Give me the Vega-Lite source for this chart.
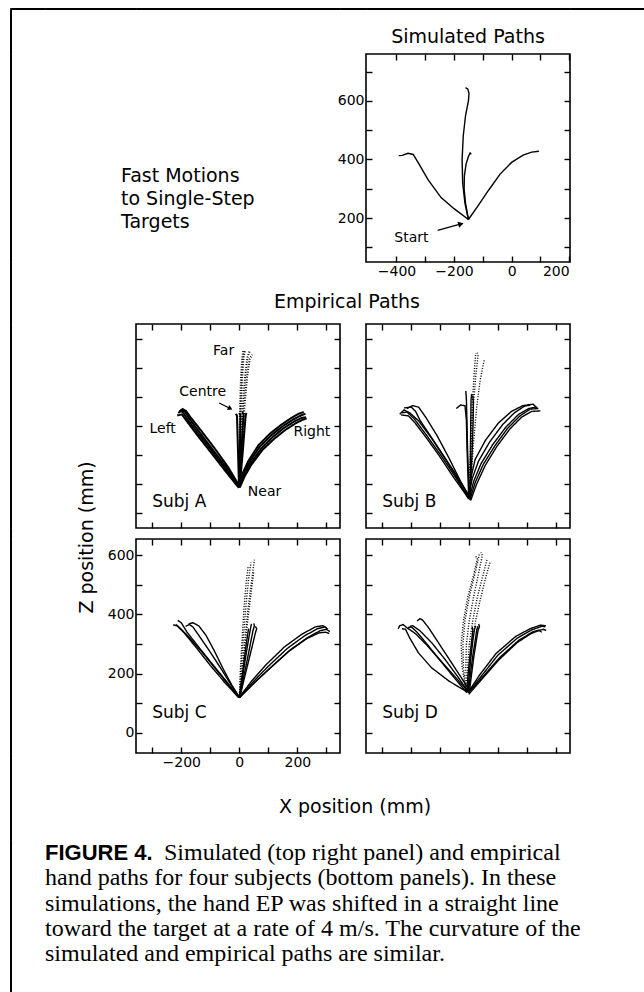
{
"$schema": "https://vega.github.io/schema/vega-lite/v6.json",
"padding": {"left": 9, "top": 7, "right": 0, "bottom": 0},
"background": "white",
"config": {
 "view": {"stroke": "#000", "strokeWidth": 1.6},
 "axis": {"domain": false, "grid": false, "tickColor": "#000", "tickSize": -6, "tickWidth": 1.4, "labelFont": "DejaVu Sans", "labelFontSize": 14, "labelColor": "#000", "labelPadding": 8},
 "title": {"font": "DejaVu Sans", "fontSize": 19, "fontWeight": "normal", "color": "#000"},
 "text": {"font": "DejaVu Sans", "color": "#000"},
 "line": {"color": "#000"}
},
"datasets": {
 "none": [],
 "txt": [{"ln":1,"text":"Fast Motions"},{"ln":2,"text":"to Single-Step"},{"ln":3,"text":"Targets"}],
 "ttl": [{"k":"e","text":"Empirical Paths"},{"k":"x","text":"X position (mm)"},{"k":"z","text":"Z position (mm)"}],
 "cap": [
  {"ln":1,"part":"h","text":"FIGURE 4."},
  {"ln":1,"part":"b1","text":"Simulated (top right panel) and empirical"},
  {"ln":2,"part":"b","text":"hand paths for four subjects (bottom panels). In these"},
  {"ln":3,"part":"b","text":"simulations, the hand EP was shifted in a straight line"},
  {"ln":4,"part":"b","text":"toward the target at a rate of 4 m/s. The curvature of the"},
  {"ln":5,"part":"b","text":"simulated and empirical paths are similar."}
 ],
 "lab": [
  {"p":"A","k":"s","x":-300,"z":40,"text":"Subj A"},
  {"p":"B","k":"s","x":-300,"z":40,"text":"Subj B"},
  {"p":"C","k":"s","x":-300,"z":67,"text":"Subj C"},
  {"p":"D","k":"s","x":-300,"z":67,"text":"Subj D"},
  {"p":"A","k":"t","x":-54,"z":557,"text":"Far"},
  {"p":"A","k":"t","x":-126,"z":417,"text":"Centre"},
  {"p":"A","k":"t","x":-264,"z":290,"text":"Left"},
  {"p":"A","k":"t","x":250,"z":280,"text":"Right"},
  {"p":"A","k":"t","x":87,"z":72,"text":"Near"},
  {"p":"S","k":"t","x":-348,"z":133,"text":"Start"}
 ],
 "arr": [
  {"p":"S","x":-257,"z":158,"x2":-176,"z2":180},
  {"p":"A","x":-69,"z":379,"x2":-31,"z2":360}
 ],
 "S": [
  {"t":"L","i":0,"x":-150,"z":195},{"t":"L","i":1,"x":-200,"z":232},{"t":"L","i":2,"x":-245,"z":270},{"t":"L","i":3,"x":-290,"z":330},{"t":"L","i":4,"x":-322,"z":385},{"t":"L","i":5,"x":-342,"z":417},{"t":"L","i":6,"x":-360,"z":421},{"t":"L","i":7,"x":-380,"z":414},{"t":"L","i":8,"x":-392,"z":413},
  {"t":"R","i":0,"x":-150,"z":195},{"t":"R","i":1,"x":-118,"z":240},{"t":"R","i":2,"x":-80,"z":295},{"t":"R","i":3,"x":-40,"z":350},{"t":"R","i":4,"x":0,"z":390},{"t":"R","i":5,"x":40,"z":415},{"t":"R","i":6,"x":70,"z":425},{"t":"R","i":7,"x":95,"z":428},
  {"t":"F","i":0,"x":-150,"z":195},{"t":"F","i":1,"x":-162,"z":250},{"t":"F","i":2,"x":-170,"z":320},{"t":"F","i":3,"x":-172,"z":400},{"t":"F","i":4,"x":-168,"z":480},{"t":"F","i":5,"x":-160,"z":550},{"t":"F","i":6,"x":-150,"z":600},{"t":"F","i":7,"x":-148,"z":625},{"t":"F","i":8,"x":-152,"z":640},{"t":"F","i":9,"x":-160,"z":645},
  {"t":"C","i":0,"x":-150,"z":195},{"t":"C","i":1,"x":-160,"z":250},{"t":"C","i":2,"x":-165,"z":300},{"t":"C","i":3,"x":-164,"z":345},{"t":"C","i":4,"x":-158,"z":385},{"t":"C","i":5,"x":-150,"z":410},{"t":"C","i":6,"x":-144,"z":422},{"t":"C","i":7,"x":-140,"z":418}
 ],
 "A": [
  {"t":"L1","g":"L","i":0,"x":0,"z":90},{"t":"L1","g":"L","i":1,"x":-45,"z":150},{"t":"L1","g":"L","i":2,"x":-95,"z":215},{"t":"L1","g":"L","i":3,"x":-140,"z":272},{"t":"L1","g":"L","i":4,"x":-178,"z":322},{"t":"L1","g":"L","i":5,"x":-195,"z":348},{"t":"L1","g":"L","i":6,"x":-203,"z":352},{"t":"L1","g":"L","i":7,"x":-210,"z":344},
  {"t":"L2","g":"L","i":0,"x":2,"z":92},{"t":"L2","g":"L","i":1,"x":-40,"z":152},{"t":"L2","g":"L","i":2,"x":-88,"z":214},{"t":"L2","g":"L","i":3,"x":-135,"z":276},{"t":"L2","g":"L","i":4,"x":-172,"z":325},{"t":"L2","g":"L","i":5,"x":-188,"z":350},{"t":"L2","g":"L","i":6,"x":-198,"z":356},{"t":"L2","g":"L","i":7,"x":-206,"z":350},
  {"t":"L3","g":"L","i":0,"x":-2,"z":88},{"t":"L3","g":"L","i":1,"x":-50,"z":148},{"t":"L3","g":"L","i":2,"x":-100,"z":212},{"t":"L3","g":"L","i":3,"x":-146,"z":270},{"t":"L3","g":"L","i":4,"x":-182,"z":318},{"t":"L3","g":"L","i":5,"x":-198,"z":340},{"t":"L3","g":"L","i":6,"x":-214,"z":336},
  {"t":"L4","g":"L","i":0,"x":0,"z":94},{"t":"L4","g":"L","i":1,"x":-38,"z":158},{"t":"L4","g":"L","i":2,"x":-84,"z":222},{"t":"L4","g":"L","i":3,"x":-130,"z":282},{"t":"L4","g":"L","i":4,"x":-168,"z":330},{"t":"L4","g":"L","i":5,"x":-184,"z":352},{"t":"L4","g":"L","i":6,"x":-195,"z":358},{"t":"L4","g":"L","i":7,"x":-204,"z":348},
  {"t":"C1","g":"C","i":0,"x":0,"z":90},{"t":"C1","g":"C","i":1,"x":1,"z":150},{"t":"C1","g":"C","i":2,"x":2,"z":220},{"t":"C1","g":"C","i":3,"x":3,"z":290},{"t":"C1","g":"C","i":4,"x":4,"z":335},{"t":"C1","g":"C","i":5,"x":0,"z":345},
  {"t":"C2","g":"C","i":0,"x":0,"z":92},{"t":"C2","g":"C","i":1,"x":4,"z":160},{"t":"C2","g":"C","i":2,"x":8,"z":230},{"t":"C2","g":"C","i":3,"x":12,"z":300},{"t":"C2","g":"C","i":4,"x":15,"z":340},{"t":"C2","g":"C","i":5,"x":10,"z":348},
  {"t":"C3","g":"C","i":0,"x":1,"z":90},{"t":"C3","g":"C","i":1,"x":7,"z":155},{"t":"C3","g":"C","i":2,"x":13,"z":225},{"t":"C3","g":"C","i":3,"x":18,"z":290},{"t":"C3","g":"C","i":4,"x":22,"z":335},{"t":"C3","g":"C","i":5,"x":24,"z":345},
  {"t":"C4","g":"C","i":0,"x":-1,"z":90},{"t":"C4","g":"C","i":1,"x":-3,"z":160},{"t":"C4","g":"C","i":2,"x":-5,"z":230},{"t":"C4","g":"C","i":3,"x":-7,"z":300},{"t":"C4","g":"C","i":4,"x":-8,"z":335},{"t":"C4","g":"C","i":5,"x":-12,"z":342},
  {"t":"F1","g":"F","i":0,"x":0,"z":90},{"t":"F1","g":"F","i":1,"x":1,"z":180},{"t":"F1","g":"F","i":2,"x":3,"z":280},{"t":"F1","g":"F","i":3,"x":6,"z":380},{"t":"F1","g":"F","i":4,"x":10,"z":470},{"t":"F1","g":"F","i":5,"x":15,"z":540},{"t":"F1","g":"F","i":6,"x":20,"z":560},
  {"t":"F2","g":"F","i":0,"x":1,"z":90},{"t":"F2","g":"F","i":1,"x":4,"z":180},{"t":"F2","g":"F","i":2,"x":8,"z":280},{"t":"F2","g":"F","i":3,"x":13,"z":380},{"t":"F2","g":"F","i":4,"x":20,"z":470},{"t":"F2","g":"F","i":5,"x":28,"z":535},{"t":"F2","g":"F","i":6,"x":35,"z":555},
  {"t":"F3","g":"F","i":0,"x":0,"z":92},{"t":"F3","g":"F","i":1,"x":6,"z":185},{"t":"F3","g":"F","i":2,"x":12,"z":285},{"t":"F3","g":"F","i":3,"x":19,"z":385},{"t":"F3","g":"F","i":4,"x":27,"z":470},{"t":"F3","g":"F","i":5,"x":36,"z":530},{"t":"F3","g":"F","i":6,"x":44,"z":545},
  {"t":"F4","g":"F","i":0,"x":-1,"z":90},{"t":"F4","g":"F","i":1,"x":0,"z":180},{"t":"F4","g":"F","i":2,"x":1,"z":280},{"t":"F4","g":"F","i":3,"x":3,"z":380},{"t":"F4","g":"F","i":4,"x":6,"z":470},{"t":"F4","g":"F","i":5,"x":10,"z":530},{"t":"F4","g":"F","i":6,"x":14,"z":560},
  {"t":"R1","g":"R","i":0,"x":0,"z":90},{"t":"R1","g":"R","i":1,"x":12,"z":130},{"t":"R1","g":"R","i":2,"x":32,"z":172},{"t":"R1","g":"R","i":3,"x":70,"z":228},{"t":"R1","g":"R","i":4,"x":110,"z":268},{"t":"R1","g":"R","i":5,"x":148,"z":298},{"t":"R1","g":"R","i":6,"x":185,"z":322},{"t":"R1","g":"R","i":7,"x":212,"z":336},{"t":"R1","g":"R","i":8,"x":228,"z":342},
  {"t":"R2","g":"R","i":0,"x":1,"z":90},{"t":"R2","g":"R","i":1,"x":15,"z":128},{"t":"R2","g":"R","i":2,"x":36,"z":168},{"t":"R2","g":"R","i":3,"x":75,"z":222},{"t":"R2","g":"R","i":4,"x":115,"z":262},{"t":"R2","g":"R","i":5,"x":152,"z":292},{"t":"R2","g":"R","i":6,"x":190,"z":316},{"t":"R2","g":"R","i":7,"x":216,"z":328},{"t":"R2","g":"R","i":8,"x":230,"z":330},
  {"t":"R3","g":"R","i":0,"x":0,"z":92},{"t":"R3","g":"R","i":1,"x":10,"z":134},{"t":"R3","g":"R","i":2,"x":30,"z":178},{"t":"R3","g":"R","i":3,"x":66,"z":234},{"t":"R3","g":"R","i":4,"x":106,"z":274},{"t":"R3","g":"R","i":5,"x":144,"z":304},{"t":"R3","g":"R","i":6,"x":180,"z":328},{"t":"R3","g":"R","i":7,"x":205,"z":342},{"t":"R3","g":"R","i":8,"x":222,"z":348},
  {"t":"R4","g":"R","i":0,"x":2,"z":90},{"t":"R4","g":"R","i":1,"x":18,"z":126},{"t":"R4","g":"R","i":2,"x":40,"z":165},{"t":"R4","g":"R","i":3,"x":80,"z":218},{"t":"R4","g":"R","i":4,"x":120,"z":256},{"t":"R4","g":"R","i":5,"x":158,"z":286},{"t":"R4","g":"R","i":6,"x":195,"z":310},{"t":"R4","g":"R","i":7,"x":220,"z":322},{"t":"R4","g":"R","i":8,"x":232,"z":326}
 ],
 "B": [
  {"t":"L1","g":"L","i":0,"x":0,"z":50},{"t":"L1","g":"L","i":1,"x":-45,"z":120},{"t":"L1","g":"L","i":2,"x":-95,"z":195},{"t":"L1","g":"L","i":3,"x":-145,"z":265},{"t":"L1","g":"L","i":4,"x":-190,"z":325},{"t":"L1","g":"L","i":5,"x":-215,"z":348},{"t":"L1","g":"L","i":6,"x":-232,"z":345},
  {"t":"L2","g":"L","i":0,"x":-5,"z":55},{"t":"L2","g":"L","i":1,"x":-55,"z":125},{"t":"L2","g":"L","i":2,"x":-105,"z":200},{"t":"L2","g":"L","i":3,"x":-150,"z":262},{"t":"L2","g":"L","i":4,"x":-188,"z":312},{"t":"L2","g":"L","i":5,"x":-210,"z":335},{"t":"L2","g":"L","i":6,"x":-235,"z":338},
  {"t":"L3","g":"L","i":0,"x":5,"z":45},{"t":"L3","g":"L","i":1,"x":-30,"z":110},{"t":"L3","g":"L","i":2,"x":-70,"z":190},{"t":"L3","g":"L","i":3,"x":-110,"z":265},{"t":"L3","g":"L","i":4,"x":-150,"z":330},{"t":"L3","g":"L","i":5,"x":-175,"z":365},{"t":"L3","g":"L","i":6,"x":-195,"z":370},{"t":"L3","g":"L","i":7,"x":-215,"z":360},
  {"t":"L4","g":"L","i":0,"x":0,"z":60},{"t":"L4","g":"L","i":1,"x":-50,"z":140},{"t":"L4","g":"L","i":2,"x":-100,"z":215},{"t":"L4","g":"L","i":3,"x":-140,"z":275},{"t":"L4","g":"L","i":4,"x":-170,"z":320},{"t":"L4","g":"L","i":5,"x":-185,"z":350},{"t":"L4","g":"L","i":6,"x":-200,"z":365},{"t":"L4","g":"L","i":7,"x":-225,"z":362},
  {"t":"L5","g":"L","i":0,"x":-3,"z":50},{"t":"L5","g":"L","i":1,"x":-40,"z":118},{"t":"L5","g":"L","i":2,"x":-85,"z":190},{"t":"L5","g":"L","i":3,"x":-130,"z":258},{"t":"L5","g":"L","i":4,"x":-175,"z":318},{"t":"L5","g":"L","i":5,"x":-205,"z":345},{"t":"L5","g":"L","i":6,"x":-225,"z":355},{"t":"L5","g":"L","i":7,"x":-240,"z":340},
  {"t":"C1","g":"C","i":0,"x":0,"z":50},{"t":"C1","g":"C","i":1,"x":-3,"z":130},{"t":"C1","g":"C","i":2,"x":-6,"z":220},{"t":"C1","g":"C","i":3,"x":-8,"z":310},{"t":"C1","g":"C","i":4,"x":-10,"z":390},{"t":"C1","g":"C","i":5,"x":-12,"z":420},
  {"t":"C2","g":"C","i":0,"x":2,"z":48},{"t":"C2","g":"C","i":1,"x":3,"z":130},{"t":"C2","g":"C","i":2,"x":4,"z":220},{"t":"C2","g":"C","i":3,"x":5,"z":310},{"t":"C2","g":"C","i":4,"x":6,"z":390},{"t":"C2","g":"C","i":5,"x":8,"z":410},
  {"t":"C3","g":"C","i":0,"x":-2,"z":55},{"t":"C3","g":"C","i":1,"x":-5,"z":140},{"t":"C3","g":"C","i":2,"x":-8,"z":230},{"t":"C3","g":"C","i":3,"x":-10,"z":320},{"t":"C3","g":"C","i":4,"x":-15,"z":370},{"t":"C3","g":"C","i":5,"x":-30,"z":372},{"t":"C3","g":"C","i":6,"x":-45,"z":360},
  {"t":"C4","g":"C","i":0,"x":1,"z":50},{"t":"C4","g":"C","i":1,"x":6,"z":130},{"t":"C4","g":"C","i":2,"x":10,"z":220},{"t":"C4","g":"C","i":3,"x":13,"z":310},{"t":"C4","g":"C","i":4,"x":14,"z":380},{"t":"C4","g":"C","i":5,"x":12,"z":405},
  {"t":"F1","g":"F","i":0,"x":0,"z":50},{"t":"F1","g":"F","i":1,"x":2,"z":150},{"t":"F1","g":"F","i":2,"x":5,"z":260},{"t":"F1","g":"F","i":3,"x":10,"z":370},{"t":"F1","g":"F","i":4,"x":16,"z":470},{"t":"F1","g":"F","i":5,"x":22,"z":550},
  {"t":"F2","g":"F","i":0,"x":2,"z":52},{"t":"F2","g":"F","i":1,"x":8,"z":150},{"t":"F2","g":"F","i":2,"x":16,"z":260},{"t":"F2","g":"F","i":3,"x":26,"z":370},{"t":"F2","g":"F","i":4,"x":38,"z":460},{"t":"F2","g":"F","i":5,"x":52,"z":530},
  {"t":"F3","g":"F","i":0,"x":-1,"z":50},{"t":"F3","g":"F","i":1,"x":3,"z":150},{"t":"F3","g":"F","i":2,"x":8,"z":260},{"t":"F3","g":"F","i":3,"x":14,"z":370},{"t":"F3","g":"F","i":4,"x":22,"z":470},{"t":"F3","g":"F","i":5,"x":30,"z":540},{"t":"F3","g":"F","i":6,"x":26,"z":555},
  {"t":"R1","g":"R","i":0,"x":0,"z":50},{"t":"R1","g":"R","i":1,"x":15,"z":110},{"t":"R1","g":"R","i":2,"x":40,"z":170},{"t":"R1","g":"R","i":3,"x":80,"z":235},{"t":"R1","g":"R","i":4,"x":125,"z":295},{"t":"R1","g":"R","i":5,"x":170,"z":340},{"t":"R1","g":"R","i":6,"x":205,"z":360},{"t":"R1","g":"R","i":7,"x":230,"z":365},
  {"t":"R2","g":"R","i":0,"x":5,"z":45},{"t":"R2","g":"R","i":1,"x":25,"z":100},{"t":"R2","g":"R","i":2,"x":55,"z":165},{"t":"R2","g":"R","i":3,"x":95,"z":230},{"t":"R2","g":"R","i":4,"x":140,"z":290},{"t":"R2","g":"R","i":5,"x":180,"z":330},{"t":"R2","g":"R","i":6,"x":215,"z":350},{"t":"R2","g":"R","i":7,"x":245,"z":352},
  {"t":"R3","g":"R","i":0,"x":-3,"z":55},{"t":"R3","g":"R","i":1,"x":10,"z":120},{"t":"R3","g":"R","i":2,"x":32,"z":180},{"t":"R3","g":"R","i":3,"x":70,"z":245},{"t":"R3","g":"R","i":4,"x":115,"z":305},{"t":"R3","g":"R","i":5,"x":155,"z":345},{"t":"R3","g":"R","i":6,"x":190,"z":368},{"t":"R3","g":"R","i":7,"x":210,"z":372},
  {"t":"R4","g":"R","i":0,"x":3,"z":50},{"t":"R4","g":"R","i":1,"x":20,"z":105},{"t":"R4","g":"R","i":2,"x":48,"z":168},{"t":"R4","g":"R","i":3,"x":88,"z":232},{"t":"R4","g":"R","i":4,"x":132,"z":292},{"t":"R4","g":"R","i":5,"x":175,"z":335},{"t":"R4","g":"R","i":6,"x":210,"z":358},{"t":"R4","g":"R","i":7,"x":238,"z":360},
  {"t":"R5","g":"R","i":0,"x":0,"z":48},{"t":"R5","g":"R","i":1,"x":5,"z":120},{"t":"R5","g":"R","i":2,"x":20,"z":185},{"t":"R5","g":"R","i":3,"x":55,"z":250},{"t":"R5","g":"R","i":4,"x":100,"z":310},{"t":"R5","g":"R","i":5,"x":145,"z":350},{"t":"R5","g":"R","i":6,"x":185,"z":370},{"t":"R5","g":"R","i":7,"x":220,"z":375},{"t":"R5","g":"R","i":8,"x":235,"z":360}
 ],
 "C": [
  {"t":"L1","g":"L","i":0,"x":0,"z":119},{"t":"L1","g":"L","i":1,"x":-40,"z":165},{"t":"L1","g":"L","i":2,"x":-85,"z":220},{"t":"L1","g":"L","i":3,"x":-130,"z":275},{"t":"L1","g":"L","i":4,"x":-175,"z":325},{"t":"L1","g":"L","i":5,"x":-205,"z":355},{"t":"L1","g":"L","i":6,"x":-218,"z":366},
  {"t":"L2","g":"L","i":0,"x":-3,"z":122},{"t":"L2","g":"L","i":1,"x":-45,"z":175},{"t":"L2","g":"L","i":2,"x":-95,"z":235},{"t":"L2","g":"L","i":3,"x":-140,"z":290},{"t":"L2","g":"L","i":4,"x":-180,"z":340},{"t":"L2","g":"L","i":5,"x":-200,"z":372},{"t":"L2","g":"L","i":6,"x":-212,"z":380},
  {"t":"L3","g":"L","i":0,"x":2,"z":118},{"t":"L3","g":"L","i":1,"x":-30,"z":165},{"t":"L3","g":"L","i":2,"x":-65,"z":220},{"t":"L3","g":"L","i":3,"x":-105,"z":280},{"t":"L3","g":"L","i":4,"x":-140,"z":330},{"t":"L3","g":"L","i":5,"x":-160,"z":358},{"t":"L3","g":"L","i":6,"x":-172,"z":366},{"t":"L3","g":"L","i":7,"x":-185,"z":360},
  {"t":"L4","g":"L","i":0,"x":0,"z":120},{"t":"L4","g":"L","i":1,"x":-25,"z":160},{"t":"L4","g":"L","i":2,"x":-55,"z":215},{"t":"L4","g":"L","i":3,"x":-85,"z":275},{"t":"L4","g":"L","i":4,"x":-115,"z":330},{"t":"L4","g":"L","i":5,"x":-140,"z":362},{"t":"L4","g":"L","i":6,"x":-160,"z":372},{"t":"L4","g":"L","i":7,"x":-175,"z":368},
  {"t":"L5","g":"L","i":0,"x":-2,"z":119},{"t":"L5","g":"L","i":1,"x":-50,"z":170},{"t":"L5","g":"L","i":2,"x":-100,"z":228},{"t":"L5","g":"L","i":3,"x":-150,"z":290},{"t":"L5","g":"L","i":4,"x":-190,"z":338},{"t":"L5","g":"L","i":5,"x":-215,"z":362},{"t":"L5","g":"L","i":6,"x":-228,"z":365},
  {"t":"C1","g":"C","i":0,"x":0,"z":119},{"t":"C1","g":"C","i":1,"x":10,"z":180},{"t":"C1","g":"C","i":2,"x":20,"z":245},{"t":"C1","g":"C","i":3,"x":30,"z":305},{"t":"C1","g":"C","i":4,"x":38,"z":350},{"t":"C1","g":"C","i":5,"x":42,"z":368},
  {"t":"C2","g":"C","i":0,"x":1,"z":120},{"t":"C2","g":"C","i":1,"x":13,"z":180},{"t":"C2","g":"C","i":2,"x":26,"z":240},{"t":"C2","g":"C","i":3,"x":38,"z":300},{"t":"C2","g":"C","i":4,"x":47,"z":345},{"t":"C2","g":"C","i":5,"x":52,"z":362},{"t":"C2","g":"C","i":6,"x":50,"z":370},
  {"t":"C3","g":"C","i":0,"x":0,"z":118},{"t":"C3","g":"C","i":1,"x":8,"z":180},{"t":"C3","g":"C","i":2,"x":16,"z":240},{"t":"C3","g":"C","i":3,"x":24,"z":300},{"t":"C3","g":"C","i":4,"x":30,"z":340},{"t":"C3","g":"C","i":5,"x":32,"z":352},
  {"t":"C4","g":"C","i":0,"x":2,"z":120},{"t":"C4","g":"C","i":1,"x":15,"z":175},{"t":"C4","g":"C","i":2,"x":30,"z":235},{"t":"C4","g":"C","i":3,"x":45,"z":295},{"t":"C4","g":"C","i":4,"x":56,"z":340},{"t":"C4","g":"C","i":5,"x":60,"z":352},{"t":"C4","g":"C","i":6,"x":55,"z":360},
  {"t":"F1","g":"F","i":0,"x":0,"z":119},{"t":"F1","g":"F","i":1,"x":6,"z":220},{"t":"F1","g":"F","i":2,"x":14,"z":320},{"t":"F1","g":"F","i":3,"x":22,"z":420},{"t":"F1","g":"F","i":4,"x":32,"z":520},{"t":"F1","g":"F","i":5,"x":40,"z":575},
  {"t":"F2","g":"F","i":0,"x":1,"z":120},{"t":"F2","g":"F","i":1,"x":10,"z":220},{"t":"F2","g":"F","i":2,"x":20,"z":320},{"t":"F2","g":"F","i":3,"x":30,"z":420},{"t":"F2","g":"F","i":4,"x":42,"z":510},{"t":"F2","g":"F","i":5,"x":52,"z":585},
  {"t":"F3","g":"F","i":0,"x":0,"z":118},{"t":"F3","g":"F","i":1,"x":4,"z":220},{"t":"F3","g":"F","i":2,"x":10,"z":320},{"t":"F3","g":"F","i":3,"x":16,"z":420},{"t":"F3","g":"F","i":4,"x":24,"z":510},{"t":"F3","g":"F","i":5,"x":30,"z":560},
  {"t":"F4","g":"F","i":0,"x":2,"z":119},{"t":"F4","g":"F","i":1,"x":12,"z":220},{"t":"F4","g":"F","i":2,"x":22,"z":320},{"t":"F4","g":"F","i":3,"x":34,"z":420},{"t":"F4","g":"F","i":4,"x":44,"z":500},{"t":"F4","g":"F","i":5,"x":50,"z":545},
  {"t":"R1","g":"R","i":0,"x":0,"z":119},{"t":"R1","g":"R","i":1,"x":50,"z":175},{"t":"R1","g":"R","i":2,"x":100,"z":225},{"t":"R1","g":"R","i":3,"x":165,"z":285},{"t":"R1","g":"R","i":4,"x":225,"z":328},{"t":"R1","g":"R","i":5,"x":270,"z":352},{"t":"R1","g":"R","i":6,"x":295,"z":358},{"t":"R1","g":"R","i":7,"x":305,"z":350},
  {"t":"R2","g":"R","i":0,"x":2,"z":120},{"t":"R2","g":"R","i":1,"x":55,"z":172},{"t":"R2","g":"R","i":2,"x":110,"z":222},{"t":"R2","g":"R","i":3,"x":175,"z":280},{"t":"R2","g":"R","i":4,"x":235,"z":322},{"t":"R2","g":"R","i":5,"x":278,"z":345},{"t":"R2","g":"R","i":6,"x":300,"z":350},{"t":"R2","g":"R","i":7,"x":312,"z":342},
  {"t":"R3","g":"R","i":0,"x":-2,"z":118},{"t":"R3","g":"R","i":1,"x":45,"z":178},{"t":"R3","g":"R","i":2,"x":92,"z":230},{"t":"R3","g":"R","i":3,"x":155,"z":290},{"t":"R3","g":"R","i":4,"x":215,"z":333},{"t":"R3","g":"R","i":5,"x":262,"z":358},{"t":"R3","g":"R","i":6,"x":288,"z":362},{"t":"R3","g":"R","i":7,"x":300,"z":355},
  {"t":"R4","g":"R","i":0,"x":0,"z":121},{"t":"R4","g":"R","i":1,"x":52,"z":170},{"t":"R4","g":"R","i":2,"x":105,"z":218},{"t":"R4","g":"R","i":3,"x":170,"z":275},{"t":"R4","g":"R","i":4,"x":232,"z":318},{"t":"R4","g":"R","i":5,"x":275,"z":338},{"t":"R4","g":"R","i":6,"x":298,"z":340},{"t":"R4","g":"R","i":7,"x":310,"z":336}
 ],
 "D": [
  {"t":"L1","g":"L","i":0,"x":-5,"z":140},{"t":"L1","g":"L","i":1,"x":-45,"z":185},{"t":"L1","g":"L","i":2,"x":-95,"z":240},{"t":"L1","g":"L","i":3,"x":-145,"z":295},{"t":"L1","g":"L","i":4,"x":-185,"z":335},{"t":"L1","g":"L","i":5,"x":-215,"z":355},{"t":"L1","g":"L","i":6,"x":-228,"z":366},{"t":"L1","g":"L","i":7,"x":-240,"z":362},{"t":"L1","g":"L","i":8,"x":-245,"z":352},
  {"t":"L2","g":"L","i":0,"x":-8,"z":135},{"t":"L2","g":"L","i":1,"x":-55,"z":190},{"t":"L2","g":"L","i":2,"x":-105,"z":250},{"t":"L2","g":"L","i":3,"x":-150,"z":305},{"t":"L2","g":"L","i":4,"x":-180,"z":340},{"t":"L2","g":"L","i":5,"x":-200,"z":358},{"t":"L2","g":"L","i":6,"x":-212,"z":355},
  {"t":"L3","g":"L","i":0,"x":0,"z":145},{"t":"L3","g":"L","i":1,"x":-30,"z":190},{"t":"L3","g":"L","i":2,"x":-70,"z":250},{"t":"L3","g":"L","i":3,"x":-110,"z":310},{"t":"L3","g":"L","i":4,"x":-140,"z":355},{"t":"L3","g":"L","i":5,"x":-160,"z":380},{"t":"L3","g":"L","i":6,"x":-170,"z":386},{"t":"L3","g":"L","i":7,"x":-180,"z":378},
  {"t":"L4","g":"L","i":0,"x":-10,"z":140},{"t":"L4","g":"L","i":1,"x":-70,"z":175},{"t":"L4","g":"L","i":2,"x":-130,"z":220},{"t":"L4","g":"L","i":3,"x":-175,"z":270},{"t":"L4","g":"L","i":4,"x":-205,"z":320},{"t":"L4","g":"L","i":5,"x":-220,"z":350},{"t":"L4","g":"L","i":6,"x":-232,"z":352},
  {"t":"L5","g":"L","i":0,"x":-3,"z":138},{"t":"L5","g":"L","i":1,"x":-40,"z":190},{"t":"L5","g":"L","i":2,"x":-85,"z":250},{"t":"L5","g":"L","i":3,"x":-130,"z":305},{"t":"L5","g":"L","i":4,"x":-170,"z":345},{"t":"L5","g":"L","i":5,"x":-195,"z":362},{"t":"L5","g":"L","i":6,"x":-205,"z":360},
  {"t":"C1","g":"C","i":0,"x":-5,"z":140},{"t":"C1","g":"C","i":1,"x":0,"z":200},{"t":"C1","g":"C","i":2,"x":6,"z":260},{"t":"C1","g":"C","i":3,"x":12,"z":310},{"t":"C1","g":"C","i":4,"x":18,"z":350},{"t":"C1","g":"C","i":5,"x":22,"z":362},
  {"t":"C2","g":"C","i":0,"x":-3,"z":138},{"t":"C2","g":"C","i":1,"x":4,"z":200},{"t":"C2","g":"C","i":2,"x":12,"z":260},{"t":"C2","g":"C","i":3,"x":20,"z":310},{"t":"C2","g":"C","i":4,"x":26,"z":350},{"t":"C2","g":"C","i":5,"x":30,"z":360},
  {"t":"C3","g":"C","i":0,"x":-8,"z":142},{"t":"C3","g":"C","i":1,"x":-4,"z":200},{"t":"C3","g":"C","i":2,"x":2,"z":260},{"t":"C3","g":"C","i":3,"x":8,"z":310},{"t":"C3","g":"C","i":4,"x":12,"z":345},{"t":"C3","g":"C","i":5,"x":10,"z":358},
  {"t":"C4","g":"C","i":0,"x":0,"z":135},{"t":"C4","g":"C","i":1,"x":8,"z":200},{"t":"C4","g":"C","i":2,"x":16,"z":260},{"t":"C4","g":"C","i":3,"x":24,"z":310},{"t":"C4","g":"C","i":4,"x":30,"z":345},{"t":"C4","g":"C","i":5,"x":35,"z":360},{"t":"C4","g":"C","i":6,"x":32,"z":368},
  {"t":"F1","g":"F","i":0,"x":-8,"z":140},{"t":"F1","g":"F","i":1,"x":-12,"z":220},{"t":"F1","g":"F","i":2,"x":-10,"z":300},{"t":"F1","g":"F","i":3,"x":0,"z":380},{"t":"F1","g":"F","i":4,"x":15,"z":460},{"t":"F1","g":"F","i":5,"x":32,"z":540},{"t":"F1","g":"F","i":6,"x":45,"z":600},{"t":"F1","g":"F","i":7,"x":40,"z":610},
  {"t":"F2","g":"F","i":0,"x":-5,"z":140},{"t":"F2","g":"F","i":1,"x":-6,"z":220},{"t":"F2","g":"F","i":2,"x":0,"z":300},{"t":"F2","g":"F","i":3,"x":12,"z":380},{"t":"F2","g":"F","i":4,"x":28,"z":460},{"t":"F2","g":"F","i":5,"x":48,"z":535},{"t":"F2","g":"F","i":6,"x":62,"z":590},
  {"t":"F3","g":"F","i":0,"x":-10,"z":140},{"t":"F3","g":"F","i":1,"x":-20,"z":220},{"t":"F3","g":"F","i":2,"x":-22,"z":300},{"t":"F3","g":"F","i":3,"x":-15,"z":380},{"t":"F3","g":"F","i":4,"x":0,"z":460},{"t":"F3","g":"F","i":5,"x":20,"z":540},{"t":"F3","g":"F","i":6,"x":35,"z":605},
  {"t":"F4","g":"F","i":0,"x":-3,"z":140},{"t":"F4","g":"F","i":1,"x":0,"z":220},{"t":"F4","g":"F","i":2,"x":8,"z":300},{"t":"F4","g":"F","i":3,"x":22,"z":380},{"t":"F4","g":"F","i":4,"x":40,"z":460},{"t":"F4","g":"F","i":5,"x":58,"z":530},{"t":"F4","g":"F","i":6,"x":72,"z":578},
  {"t":"F5","g":"F","i":0,"x":-12,"z":145},{"t":"F5","g":"F","i":1,"x":-25,"z":225},{"t":"F5","g":"F","i":2,"x":-28,"z":300},{"t":"F5","g":"F","i":3,"x":-20,"z":380},{"t":"F5","g":"F","i":4,"x":-5,"z":460},{"t":"F5","g":"F","i":5,"x":15,"z":535},{"t":"F5","g":"F","i":6,"x":28,"z":590},{"t":"F5","g":"F","i":7,"x":20,"z":598},
  {"t":"R1","g":"R","i":0,"x":0,"z":140},{"t":"R1","g":"R","i":1,"x":40,"z":190},{"t":"R1","g":"R","i":2,"x":98,"z":262},{"t":"R1","g":"R","i":3,"x":165,"z":320},{"t":"R1","g":"R","i":4,"x":215,"z":348},{"t":"R1","g":"R","i":5,"x":250,"z":360},{"t":"R1","g":"R","i":6,"x":262,"z":358},
  {"t":"R2","g":"R","i":0,"x":-5,"z":135},{"t":"R2","g":"R","i":1,"x":35,"z":195},{"t":"R2","g":"R","i":2,"x":92,"z":268},{"t":"R2","g":"R","i":3,"x":160,"z":326},{"t":"R2","g":"R","i":4,"x":210,"z":352},{"t":"R2","g":"R","i":5,"x":245,"z":364},{"t":"R2","g":"R","i":6,"x":264,"z":362},
  {"t":"R3","g":"R","i":0,"x":3,"z":142},{"t":"R3","g":"R","i":1,"x":45,"z":188},{"t":"R3","g":"R","i":2,"x":105,"z":255},{"t":"R3","g":"R","i":3,"x":172,"z":314},{"t":"R3","g":"R","i":4,"x":220,"z":342},{"t":"R3","g":"R","i":5,"x":255,"z":350},{"t":"R3","g":"R","i":6,"x":265,"z":346},
  {"t":"R4","g":"R","i":0,"x":-2,"z":130},{"t":"R4","g":"R","i":1,"x":42,"z":180},{"t":"R4","g":"R","i":2,"x":100,"z":245},{"t":"R4","g":"R","i":3,"x":165,"z":305},{"t":"R4","g":"R","i":4,"x":212,"z":335},{"t":"R4","g":"R","i":5,"x":240,"z":346},{"t":"R4","g":"R","i":6,"x":250,"z":340}
 ]
},
"columns": 7,
"align": "each",
"bounds": "flush",
"spacing": 0,
"concat": [
 {"width": 1, "height": 1, "view": {"stroke": "#000", "strokeWidth": 1}, "data": {"name": "none"}, "mark": "text"},
 {"width": 34, "height": 1, "view": {"stroke": "#000", "strokeWidth": 1}, "data": {"name": "none"}, "mark": "text"},
 {"width": 91, "height": 1, "view": {"stroke": "#000", "strokeWidth": 1}, "data": {"name": "none"}, "mark": "text"},
 {"width": 204, "height": 1, "view": {"stroke": "#000", "strokeWidth": 1}, "data": {"name": "none"}, "mark": "text"},
 {"width": 26, "height": 1, "view": {"stroke": "#000", "strokeWidth": 1}, "data": {"name": "none"}, "mark": "text"},
 {"width": 204, "height": 1, "view": {"stroke": "#000", "strokeWidth": 1}, "data": {"name": "none"}, "mark": "text"},
 {"width": 80, "height": 1, "view": {"stroke": "#000", "strokeWidth": 1}, "data": {"name": "none"}, "mark": "text"},

 {"width": 1, "height": 45, "view": {"stroke": "#000", "strokeWidth": 1}, "data": {"name": "none"}, "mark": "text"},
 {"width": 34, "height": 45, "view": {"stroke": null}, "data": {"name": "none"}, "mark": "text"},
 {"width": 91, "height": 45, "view": {"stroke": null}, "data": {"name": "none"}, "mark": "text"},
 {"width": 204, "height": 45, "view": {"stroke": null}, "data": {"name": "none"}, "mark": "text"},
 {"width": 26, "height": 45, "view": {"stroke": null}, "data": {"name": "none"}, "mark": "text"},
 {"width": 204, "height": 45, "view": {"stroke": null}, "data": {"name": "none"}, "mark": "text"},
 {"width": 80, "height": 45, "view": {"stroke": null}, "data": {"name": "none"}, "mark": "text"},

 {"width": 1, "height": 208, "view": {"stroke": "#000", "strokeWidth": 1}, "data": {"name": "none"}, "mark": "text"},
 {"width": 34, "height": 208, "view": {"stroke": null}, "data": {"name": "none"}, "mark": "text"},
 {"width": 91, "height": 208, "view": {"stroke": null}, "data": {"name": "none"}, "mark": "text"},
 {"width": 204, "height": 208, "view": {"stroke": null}, "data": {"name": "txt"},
  "mark": {"type": "text", "fontSize": 19, "align": "left", "baseline": "middle", "dx": -15},
  "encoding": {"x": {"value": 0}, "y": {"field": "ln", "type": "ordinal", "scale": {"type": "point", "range": [122, 168], "padding": 0}, "axis": null}, "text": {"field": "text"}}},
 {"width": 26, "height": 208, "view": {"stroke": null}, "data": {"name": "none"}, "mark": "text"},
 {"width": 204, "height": 208,
  "title": {"text": "Simulated Paths", "frame": "group", "offset": 6},
  "resolve": {"scale": {"x": "independent", "y": "independent"}},
  "layer": [
   {"data": {"name": "S"}, "mark": {"type": "line", "strokeWidth": 1.4, "color": "#000"},
    "encoding": {
     "x": {"field": "x", "type": "quantitative", "scale": {"domain": [-506, 203], "nice": false, "zero": false}, "axis": {"title": null, "values": [-400,-300,-200,-100,0,100,200], "labelExpr": "datum.value % 200 === 0 ? datum.label : ''"}},
     "y": {"field": "z", "type": "quantitative", "scale": {"domain": [50, 760], "nice": false, "zero": false}, "axis": {"title": null, "values": [100,200,300,400,500,600,700], "labelExpr": "datum.value % 200 === 0 ? datum.label : ''"}},
     "detail": {"field": "t"}, "order": {"field": "i", "type": "quantitative"}}},
   {"data": {"name": "lab"}, "transform": [{"filter": "datum.p === 'S'"}], "mark": {"type": "text", "fontSize": 14, "align": "center", "baseline": "middle"},
    "encoding": {
     "x": {"field": "x", "type": "quantitative", "scale": {"domain": [-506, 203], "nice": false, "zero": false}, "axis": {"title": null, "orient": "top", "values": [-400,-300,-200,-100,0,100,200], "labels": false}},
     "y": {"field": "z", "type": "quantitative", "scale": {"domain": [50, 760], "nice": false, "zero": false}, "axis": {"title": null, "orient": "right", "values": [100,200,300,400,500,600,700], "labels": false}},
     "text": {"field": "text"}}},
   {"data": {"name": "arr"}, "transform": [{"filter": "datum.p === 'S'"}], "mark": {"type": "rule", "strokeWidth": 1.2, "color": "#000"},
    "encoding": {
     "x": {"field": "x", "type": "quantitative", "scale": {"domain": [-506, 203], "nice": false, "zero": false}, "axis": null}, "x2": {"field": "x2"},
     "y": {"field": "z", "type": "quantitative", "scale": {"domain": [50, 760], "nice": false, "zero": false}, "axis": null}, "y2": {"field": "z2"}}},
   {"data": {"name": "arr"}, "transform": [{"filter": "datum.p === 'S'"}], "mark": {"type": "point", "shape": "triangle-right", "filled": true, "size": 40, "angle": -16, "color": "#000", "opacity": 1},
    "encoding": {
     "x": {"field": "x2", "type": "quantitative", "scale": {"domain": [-506, 203], "nice": false, "zero": false}, "axis": null},
     "y": {"field": "z2", "type": "quantitative", "scale": {"domain": [50, 760], "nice": false, "zero": false}, "axis": null}}}
  ]},
 {"width": 80, "height": 208, "view": {"stroke": null}, "data": {"name": "none"}, "mark": "text"},

 {"width": 1, "height": 62, "view": {"stroke": "#000", "strokeWidth": 1}, "data": {"name": "none"}, "mark": "text"},
 {"width": 34, "height": 62, "view": {"stroke": null}, "data": {"name": "none"}, "mark": "text"},
 {"width": 91, "height": 62, "view": {"stroke": null}, "data": {"name": "none"}, "mark": "text"},
 {"width": 204, "height": 62, "view": {"stroke": null}, "data": {"name": "none"}, "mark": "text"},
 {"width": 26, "height": 62, "view": {"stroke": null}, "data": {"name": "ttl"}, "transform": [{"filter": "datum.k === 'e'"}],
  "mark": {"type": "text", "fontSize": 19, "align": "center", "baseline": "middle", "dx": -6, "dy": 9}, "encoding": {"text": {"field": "text"}}},
 {"width": 204, "height": 62, "view": {"stroke": null}, "data": {"name": "none"}, "mark": "text"},
 {"width": 80, "height": 62, "view": {"stroke": null}, "data": {"name": "none"}, "mark": "text"},

 {"width": 1, "height": 204, "view": {"stroke": "#000", "strokeWidth": 1}, "data": {"name": "none"}, "mark": "text"},
 {"width": 34, "height": 204, "view": {"stroke": null}, "data": {"name": "none"}, "mark": "text"},
 {"width": 91, "height": 204, "view": {"stroke": null}, "data": {"name": "none"}, "mark": "text"},
 {"width": 204, "height": 204, "resolve": {"scale": {"x": "independent", "y": "independent"}},
  "layer": [
   {"data": {"name": "A"}, "mark": {"type": "line", "strokeWidth": 2, "color": "#000"},
    "encoding": {
     "x": {"field": "x", "type": "quantitative", "scale": {"domain": [-356, 347], "nice": false, "zero": false}, "axis": {"title": null, "values": [-300,-200,-100,0,100,200,300], "labels": false}},
     "y": {"field": "z", "type": "quantitative", "scale": {"domain": [-50, 650], "nice": false, "zero": false}, "axis": {"title": null, "values": [0,100,200,300,400,500,600], "labels": false}},
     "detail": {"field": "t"}, "order": {"field": "i", "type": "quantitative"},
     "strokeDash": {"field": "g", "type": "nominal", "scale": {"domain": ["L","C","R","F"], "range": [[1,0],[1,0],[1,0],[1,1.6]]}, "legend": null}}},
   {"data": {"name": "lab"}, "transform": [{"filter": "datum.p === 'A' && datum.k === 's'"}], "mark": {"type": "text", "fontSize": 17, "align": "left", "baseline": "middle"},
    "encoding": {
     "x": {"field": "x", "type": "quantitative", "scale": {"domain": [-356, 347], "nice": false, "zero": false}, "axis": {"title": null, "orient": "top", "values": [-300,-200,-100,0,100,200,300], "labels": false}},
     "y": {"field": "z", "type": "quantitative", "scale": {"domain": [-50, 650], "nice": false, "zero": false}, "axis": {"title": null, "orient": "right", "values": [0,100,200,300,400,500,600], "labels": false}},
     "text": {"field": "text"}}},
   {"data": {"name": "lab"}, "transform": [{"filter": "datum.p === 'A' && datum.k === 't'"}], "mark": {"type": "text", "fontSize": 14, "align": "center", "baseline": "middle"},
    "encoding": {
     "x": {"field": "x", "type": "quantitative", "scale": {"domain": [-356, 347], "nice": false, "zero": false}, "axis": null},
     "y": {"field": "z", "type": "quantitative", "scale": {"domain": [-50, 650], "nice": false, "zero": false}, "axis": null},
     "text": {"field": "text"}}},
   {"data": {"name": "arr"}, "transform": [{"filter": "datum.p === 'A'"}], "mark": {"type": "rule", "strokeWidth": 1.2, "color": "#000"},
    "encoding": {
     "x": {"field": "x", "type": "quantitative", "scale": {"domain": [-356, 347], "nice": false, "zero": false}, "axis": null}, "x2": {"field": "x2"},
     "y": {"field": "z", "type": "quantitative", "scale": {"domain": [-50, 650], "nice": false, "zero": false}, "axis": null}, "y2": {"field": "z2"}}},
   {"data": {"name": "arr"}, "transform": [{"filter": "datum.p === 'A'"}], "mark": {"type": "point", "shape": "triangle-right", "filled": true, "size": 30, "angle": 27, "color": "#000", "opacity": 1},
    "encoding": {
     "x": {"field": "x2", "type": "quantitative", "scale": {"domain": [-356, 347], "nice": false, "zero": false}, "axis": null},
     "y": {"field": "z2", "type": "quantitative", "scale": {"domain": [-50, 650], "nice": false, "zero": false}, "axis": null}}}
  ]},
 {"width": 26, "height": 204, "view": {"stroke": null}, "data": {"name": "none"}, "mark": "text"},
 {"width": 204, "height": 204, "resolve": {"scale": {"x": "independent", "y": "independent"}},
  "layer": [
   {"data": {"name": "B"}, "mark": {"type": "line", "strokeWidth": 1.4, "color": "#000"},
    "encoding": {
     "x": {"field": "x", "type": "quantitative", "scale": {"domain": [-356, 347], "nice": false, "zero": false}, "axis": {"title": null, "values": [-300,-200,-100,0,100,200,300], "labels": false}},
     "y": {"field": "z", "type": "quantitative", "scale": {"domain": [-50, 650], "nice": false, "zero": false}, "axis": {"title": null, "values": [0,100,200,300,400,500,600], "labels": false}},
     "detail": {"field": "t"}, "order": {"field": "i", "type": "quantitative"},
     "strokeDash": {"field": "g", "type": "nominal", "scale": {"domain": ["L","C","R","F"], "range": [[1,0],[1,0],[1,0],[1,1.6]]}, "legend": null}}},
   {"data": {"name": "lab"}, "transform": [{"filter": "datum.p === 'B'"}], "mark": {"type": "text", "fontSize": 17, "align": "left", "baseline": "middle"},
    "encoding": {
     "x": {"field": "x", "type": "quantitative", "scale": {"domain": [-356, 347], "nice": false, "zero": false}, "axis": {"title": null, "orient": "top", "values": [-300,-200,-100,0,100,200,300], "labels": false}},
     "y": {"field": "z", "type": "quantitative", "scale": {"domain": [-50, 650], "nice": false, "zero": false}, "axis": {"title": null, "orient": "right", "values": [0,100,200,300,400,500,600], "labels": false}},
     "text": {"field": "text"}}}
  ]},
 {"width": 80, "height": 204, "view": {"stroke": null}, "data": {"name": "none"}, "mark": "text"},

 {"width": 1, "height": 11, "view": {"stroke": "#000", "strokeWidth": 1}, "data": {"name": "none"}, "mark": "text"},
 {"width": 34, "height": 11, "view": {"stroke": null}, "data": {"name": "none"}, "mark": "text"},
 {"width": 91, "height": 11, "view": {"stroke": null}, "data": {"name": "ttl"}, "transform": [{"filter": "datum.k === 'z'"}],
  "mark": {"type": "text", "fontSize": 19, "align": "center", "baseline": "middle", "angle": 270, "dx": -4, "dy": -4}, "encoding": {"text": {"field": "text"}}},
 {"width": 204, "height": 11, "view": {"stroke": null}, "data": {"name": "none"}, "mark": "text"},
 {"width": 26, "height": 11, "view": {"stroke": null}, "data": {"name": "none"}, "mark": "text"},
 {"width": 204, "height": 11, "view": {"stroke": null}, "data": {"name": "none"}, "mark": "text"},
 {"width": 80, "height": 11, "view": {"stroke": null}, "data": {"name": "none"}, "mark": "text"},

 {"width": 1, "height": 214, "view": {"stroke": "#000", "strokeWidth": 1}, "data": {"name": "none"}, "mark": "text"},
 {"width": 34, "height": 214, "view": {"stroke": null}, "data": {"name": "none"}, "mark": "text"},
 {"width": 91, "height": 214, "view": {"stroke": null}, "data": {"name": "none"}, "mark": "text"},
 {"width": 204, "height": 214, "resolve": {"scale": {"x": "independent", "y": "independent"}},
  "layer": [
   {"data": {"name": "C"}, "mark": {"type": "line", "strokeWidth": 1.4, "color": "#000"},
    "encoding": {
     "x": {"field": "x", "type": "quantitative", "scale": {"domain": [-356, 347], "nice": false, "zero": false}, "axis": {"title": null, "values": [-300,-200,-100,0,100,200,300], "labelExpr": "datum.value % 200 === 0 ? datum.label : ''"}},
     "y": {"field": "z", "type": "quantitative", "scale": {"domain": [-68, 655], "nice": false, "zero": false}, "axis": {"title": null, "values": [0,100,200,300,400,500,600], "labelExpr": "datum.value % 200 === 0 ? datum.label : ''"}},
     "detail": {"field": "t"}, "order": {"field": "i", "type": "quantitative"},
     "strokeDash": {"field": "g", "type": "nominal", "scale": {"domain": ["L","C","R","F"], "range": [[1,0],[1,0],[1,0],[1,1.6]]}, "legend": null}}},
   {"data": {"name": "lab"}, "transform": [{"filter": "datum.p === 'C'"}], "mark": {"type": "text", "fontSize": 17, "align": "left", "baseline": "middle"},
    "encoding": {
     "x": {"field": "x", "type": "quantitative", "scale": {"domain": [-356, 347], "nice": false, "zero": false}, "axis": {"title": null, "orient": "top", "values": [-300,-200,-100,0,100,200,300], "labels": false}},
     "y": {"field": "z", "type": "quantitative", "scale": {"domain": [-68, 655], "nice": false, "zero": false}, "axis": {"title": null, "orient": "right", "values": [0,100,200,300,400,500,600], "labels": false}},
     "text": {"field": "text"}}}
  ]},
 {"width": 26, "height": 214, "view": {"stroke": null}, "data": {"name": "none"}, "mark": "text"},
 {"width": 204, "height": 214, "resolve": {"scale": {"x": "independent", "y": "independent"}},
  "layer": [
   {"data": {"name": "D"}, "mark": {"type": "line", "strokeWidth": 1.4, "color": "#000"},
    "encoding": {
     "x": {"field": "x", "type": "quantitative", "scale": {"domain": [-356, 347], "nice": false, "zero": false}, "axis": {"title": null, "values": [-300,-200,-100,0,100,200,300], "labels": false}},
     "y": {"field": "z", "type": "quantitative", "scale": {"domain": [-68, 655], "nice": false, "zero": false}, "axis": {"title": null, "values": [0,100,200,300,400,500,600], "labels": false}},
     "detail": {"field": "t"}, "order": {"field": "i", "type": "quantitative"},
     "strokeDash": {"field": "g", "type": "nominal", "scale": {"domain": ["L","C","R","F"], "range": [[1,0],[1,0],[1,0],[1,1.6]]}, "legend": null}}},
   {"data": {"name": "lab"}, "transform": [{"filter": "datum.p === 'D'"}], "mark": {"type": "text", "fontSize": 17, "align": "left", "baseline": "middle"},
    "encoding": {
     "x": {"field": "x", "type": "quantitative", "scale": {"domain": [-356, 347], "nice": false, "zero": false}, "axis": {"title": null, "orient": "top", "values": [-300,-200,-100,0,100,200,300], "labels": false}},
     "y": {"field": "z", "type": "quantitative", "scale": {"domain": [-68, 655], "nice": false, "zero": false}, "axis": {"title": null, "orient": "right", "values": [0,100,200,300,400,500,600], "labels": false}},
     "text": {"field": "text"}}}
  ]},
 {"width": 80, "height": 214, "view": {"stroke": null}, "data": {"name": "none"}, "mark": "text"},

 {"width": 1, "height": 87, "view": {"stroke": "#000", "strokeWidth": 1}, "data": {"name": "none"}, "mark": "text"},
 {"width": 34, "height": 87, "view": {"stroke": null}, "data": {"name": "none"}, "mark": "text"},
 {"width": 91, "height": 87, "view": {"stroke": null}, "data": {"name": "none"}, "mark": "text"},
 {"width": 204, "height": 87, "view": {"stroke": null}, "data": {"name": "none"}, "mark": "text"},
 {"width": 26, "height": 87, "view": {"stroke": null}, "data": {"name": "ttl"}, "transform": [{"filter": "datum.k === 'x'"}],
  "mark": {"type": "text", "fontSize": 19, "align": "center", "baseline": "middle", "dx": 2, "dy": 10}, "encoding": {"text": {"field": "text"}}},
 {"width": 204, "height": 87, "view": {"stroke": null}, "data": {"name": "none"}, "mark": "text"},
 {"width": 80, "height": 87, "view": {"stroke": null}, "data": {"name": "none"}, "mark": "text"},

 {"width": 1, "height": 170, "view": {"stroke": "#000", "strokeWidth": 1}, "data": {"name": "none"}, "mark": "text"},
 {"width": 34, "height": 127, "view": {"stroke": null}, "data": {"name": "none"}, "mark": "text"},
 {"width": 91, "height": 127, "view": {"stroke": null}, "data": {"name": "cap"},
  "encoding": {"y": {"field": "ln", "type": "ordinal", "scale": {"type": "point", "padding": 0.5}, "axis": null}, "x": {"value": 0}, "text": {"field": "text"}},
  "layer": [
   {"transform": [{"filter": "datum.part === 'h'"}], "mark": {"type": "text", "font": "Liberation Sans", "fontWeight": "bold", "fontSize": 22, "align": "left", "baseline": "middle"}},
   {"transform": [{"filter": "datum.part === 'b1'"}], "mark": {"type": "text", "font": "Liberation Serif", "fontSize": 24, "align": "left", "baseline": "middle", "dx": 119}},
   {"transform": [{"filter": "datum.part === 'b'"}], "mark": {"type": "text", "font": "Liberation Serif", "fontSize": 24, "align": "left", "baseline": "middle"}}
  ]},
 {"width": 204, "height": 127, "view": {"stroke": null}, "data": {"name": "none"}, "mark": "text"},
 {"width": 26, "height": 127, "view": {"stroke": null}, "data": {"name": "none"}, "mark": "text"},
 {"width": 204, "height": 127, "view": {"stroke": null}, "data": {"name": "none"}, "mark": "text"},
 {"width": 80, "height": 127, "view": {"stroke": null}, "data": {"name": "none"}, "mark": "text"}
]
}
